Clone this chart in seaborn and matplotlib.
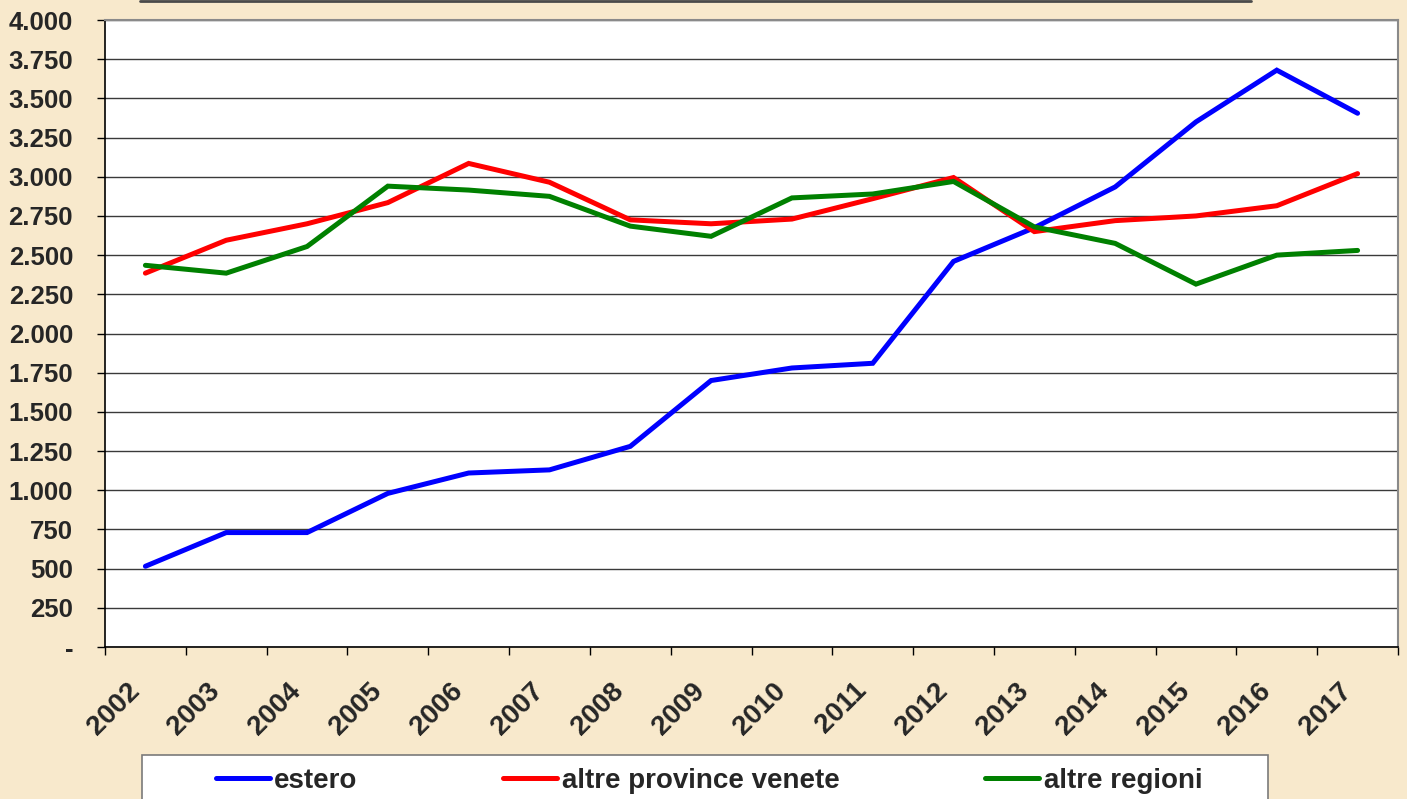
import pandas as pd
import numpy as np
import matplotlib
matplotlib.use("Agg")
import matplotlib.pyplot as plt
import matplotlib.ticker as mticker
import matplotlib.transforms as mtrans
from matplotlib.patches import Rectangle
from matplotlib.lines import Line2D
import seaborn as sns

# ================= Data =================
years = ["2002", "2003", "2004", "2005", "2006", "2007", "2008", "2009",
         "2010", "2011", "2012", "2013", "2014", "2015", "2016", "2017"]
estero = [515, 730, 730, 980, 1110, 1130, 1280, 1700,
          1780, 1810, 2460, 2675, 2935, 3350, 3680, 3405]
altre_province_venete = [2385, 2595, 2700, 2835, 3085, 2965, 2725, 2700,
                         2730, 2860, 2995, 2650, 2720, 2750, 2815, 3020]
altre_regioni = [2435, 2385, 2555, 2940, 2915, 2875, 2685, 2620,
                 2865, 2890, 2970, 2680, 2575, 2315, 2500, 2530]
series_names = ["estero", "altre province venete", "altre regioni"]
y_ticks = list(range(0, 4001, 250))

COLORS = {"estero": "#0000FF", "altre province venete": "#FF0000",
          "altre regioni": "#008000"}
BG = "#F8E9CC"

# long format for seaborn
df = pd.DataFrame({
    "pos": list(range(len(years))) * 3,
    "value": estero + altre_province_venete + altre_regioni,
    "serie": [s for s in series_names for _ in years],
})

# ================= Style =================
sns.set_theme(style="white")
plt.rcParams["font.family"] = ["Liberation Sans", "DejaVu Sans"]
plt.rcParams["font.weight"] = "bold"

fig = plt.figure(figsize=(14.07, 7.99), dpi=100, facecolor=BG)
W, H = 1407, 799
ax = fig.add_axes([105 / W, 1 - 647 / H, (1398 - 105) / W, (647 - 20) / H])
ax.set_facecolor("white")

sns.lineplot(data=df, x="pos", y="value", hue="serie", palette=COLORS,
             hue_order=series_names, sort=False, linewidth=3.6, ax=ax,
             legend=False)
for ln in ax.lines:
    ln.set_solid_capstyle("round")
    ln.set_solid_joinstyle("miter")

# ---- axes ----
ax.set_xlim(-0.5, len(years) - 0.5)
ax.set_ylim(0, 4000)
ax.set_xlabel("")
ax.set_ylabel("")

ax.set_yticks(y_ticks)
ax.yaxis.set_major_formatter(mticker.FuncFormatter(
    lambda v, p: "-" if v == 0 else f"{v:,.0f}".replace(",", ".")))
ax.grid(axis="y", color="#3a3a3a", linewidth=1.0)
ax.grid(axis="x", visible=False)
ax.set_axisbelow(True)

# category boundaries carry the tick marks, centres carry the labels
ax.set_xticks(np.arange(-0.5, len(years), 1.0))
ax.xaxis.set_major_formatter(mticker.NullFormatter())
ax.set_xticks(range(len(years)), minor=True)
ax.tick_params(axis="x", which="major", direction="out", length=6,
               width=1, color="black", bottom=True)
ax.tick_params(axis="x", which="minor", length=0, pad=28)
ax.tick_params(axis="y", direction="out", length=6, width=1, color="black",
               left=True, pad=17, labelsize=18.5)
ax.set_xticklabels(years, minor=True, rotation=45, ha="right", va="center",
                   rotation_mode="anchor", fontsize=20, fontweight="bold")
# nudge the rotated year labels left, as in the original
shift = mtrans.ScaledTranslation(-10 / 100, -1 / 100, fig.dpi_scale_trans)
for lab in ax.get_xticklabels(minor=True):
    lab.set_transform(lab.get_transform() + shift)
for lab in ax.get_yticklabels():
    lab.set_fontweight("bold")

for side in ["left", "bottom"]:
    ax.spines[side].set_color("black")
    ax.spines[side].set_linewidth(1.2)
for side in ["top", "right"]:
    ax.spines[side].set_color("#8a8a8a")
    ax.spines[side].set_linewidth(1.5)

# ---- legend in a box at the bottom ----
handles = [Line2D([], [], color=COLORS[s], linewidth=3.6) for s in series_names]
fig.add_artist(Rectangle((142 / W, -0.05), (1268 - 142) / W, 0.05 + (1 - 755 / H),
                         transform=fig.transFigure, facecolor="white",
                         edgecolor="#7a7a7a", linewidth=1.2, zorder=1))
fig.legend(handles, series_names, loc="center",
           bbox_to_anchor=(709 / W, 1 - 781 / H), ncol=3, frameon=False,
           prop={"size": 20, "weight": "bold"}, handlelength=1.95,
           handletextpad=0.15, columnspacing=5.25)

# bottom edge of the (cropped) title box
fig.add_artist(Line2D([140 / W, 1251 / W], [1 - 0.5 / H, 1 - 0.5 / H],
                      transform=fig.transFigure, color="#4a4a4a", linewidth=2))

fig.savefig("out.png", dpi=100, facecolor=BG)
